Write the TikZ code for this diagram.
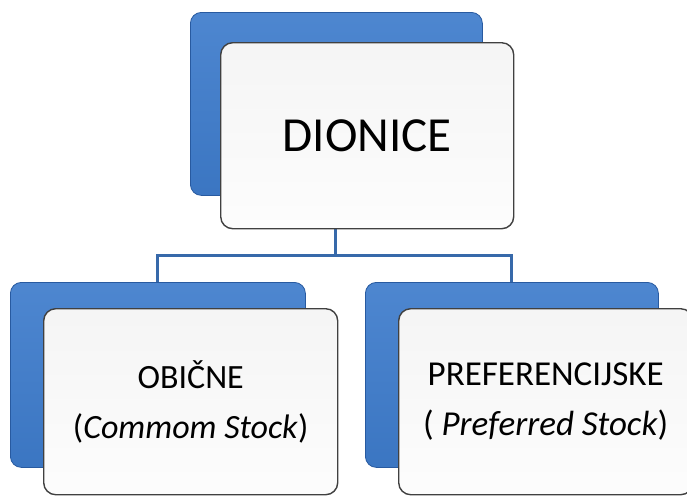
\documentclass[tikz,border=0pt]{standalone}
\usepackage{fontspec}
\setmainfont{Carlito}
\usetikzlibrary{positioning}
\definecolor{stockblue}{RGB}{62,124,204}
\definecolor{stockedge}{RGB}{40,90,160}
\definecolor{linkblue}{RGB}{55,105,170}

\begin{document}
\begin{tikzpicture}[x=1pt, y=-1pt,
		backbox/.style={draw=stockedge, line width=0.8pt, rounded corners=11pt, top color=stockblue!92!white, bottom color=stockblue!95!black, anchor=north west, inner sep=0pt},
		frontbox/.style={draw=black!75, line width=1.4pt, rounded corners=12pt, top color=black!4, bottom color=black!1, anchor=north west, align=center, inner sep=0pt},
		link/.style={draw=linkblue, line width=3pt}]
	\useasboundingbox (0,0) rectangle (687,496);
	% back boxes
	\node[backbox, minimum width=292pt, minimum height=183pt] (tblue) at (190,12) {};
	\node[backbox, minimum width=295pt, minimum height=185pt] (lblue) at (10,282) {};
	\node[backbox, minimum width=293pt, minimum height=185pt] (rblue) at (365,282) {};
	% connectors
	\coordinate (bus) at (335,255);
	\path[link] (335,200) -- (bus);
	\path[link] (lblue.north) |- (bus) -| (rblue.north);
	% front boxes
	\node[frontbox, minimum width=293pt, minimum height=186pt, font=\fontsize{49}{56}\selectfont] (dionice) at (220,42) {DIONICE};
	\node[frontbox, minimum width=294pt, minimum height=186pt, font=\fontsize{34}{50}\selectfont] (obicne) at (43,308) {OBIČNE\\(\textit{Commom Stock})};
	\node[frontbox, minimum width=294pt, minimum height=186pt, font=\fontsize{35}{50}\selectfont] (pref) at (398,308) {PREFERENCIJSKE\\( \textit{Preferred Stock})};
\end{tikzpicture}
\end{document}
